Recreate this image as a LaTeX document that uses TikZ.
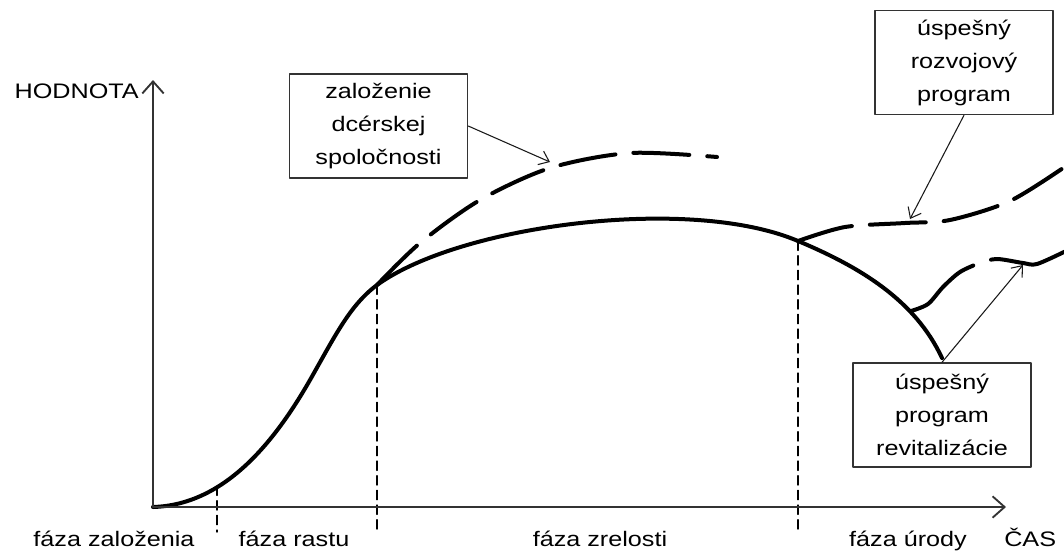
\documentclass[tikz,border=0pt]{standalone}
\usepackage{fontspec}
\setmainfont{Liberation Sans}[FakeStretch=1.2]
\usetikzlibrary{arrows.meta}

\begin{document}
\begin{tikzpicture}[x=0.75pt, y=-0.75pt, line cap=round, line join=round,
  font=\fontsize{15.75pt}{24.75pt}\selectfont,
  axis/.style={line width=1.4pt, black!80, -{Straight Barb[length=9pt,width=16pt]}},
  curve/.style={line width=3pt},
  branch/.style={line width=3pt, dash pattern=on 42pt off 13.5pt},
  phase/.style={line width=1pt, dash pattern=on 7pt off 4pt},
  box/.style={draw=black!80, line width=1.1pt, minimum width=133.5pt, minimum height=78pt, align=center, inner sep=0pt},
  pointer/.style={line width=0.8pt, black!90, -{Straight Barb[length=7pt,width=11pt]}}]

\useasboundingbox (0,0) rectangle (1064,551);

% Points on the curve
\coordinate (O) at (153,507);
\coordinate (zal) at (217,486);
\coordinate (rast) at (377,285);
\coordinate (zrel) at (798,241);
\coordinate (pokles) at (911,311);

% Main curve
\draw[curve] (O) .. controls (220,505) and (270,450) .. (310,380)
  .. controls (335,336) and (350,305) .. (rast)
  .. controls (460,225) and (690,195) .. (zrel)
  .. controls (860,267) and (915,300) .. (942,358);

% Branches
\draw[branch] plot[smooth] coordinates {(377,285) (420,243) (480,200) (550,168) (630,153) (717,157)};
\draw[branch] plot[smooth] coordinates {(798,241) (845,227) (905,223) (950,220) (1010,201) (1066,166)};
\draw[branch, dash pattern=on 59pt off 14pt] plot[smooth] coordinates {(911,311) (928,304) (943,287) (960,272) (980,263) (997,259) (1023,263) (1037,264) (1066,251)};

% Phases
\draw[phase] (zal) -- (217,532);
\draw[phase] (rast) -- (377,532);
\draw[phase] (zrel) -- (798,532);

% Axes
\draw[axis] (O) -- (153,80);
\draw[axis] (O) -- (1006,507);

% Labels
\node[anchor=base east, inner sep=0pt] (hodnota) at (139,98) {HODNOTA};
\node[anchor=base west, inner sep=0pt] (cas) at (1004,546) {ČAS};
\node[anchor=base, inner sep=0pt] (fzal) at (114,546) {fáza založenia};
\node[anchor=base, inner sep=0pt] (frast) at (294,546) {fáza rastu};
\node[anchor=base, inner sep=0pt] (fzrel) at (600,546) {fáza zrelosti};
\node[anchor=base, inner sep=0pt] (furod) at (908,546) {fáza úrody};

% Boxes
\node[box, fill=white] (dcera) at (378.5,126) {založenie\\dcérskej\\spoločnosti};
\node[box] (rozvoj) at (964,62.5) {úspešný\\rozvojový\\program};
\node[box, fill=white] (revit) at (942,415) {úspešný\\program\\revitalizácie};

% Pointers
\coordinate (tdcera) at (550,162);
\coordinate (trozvoj) at (910,219);
\coordinate (trevit) at (1023,265);
\draw[pointer] (dcera.east) -- (tdcera);
\draw[pointer] (rozvoj.south) -- (trozvoj);
\draw[pointer] (revit.north) -- (trevit);

\end{tikzpicture}
\end{document}
